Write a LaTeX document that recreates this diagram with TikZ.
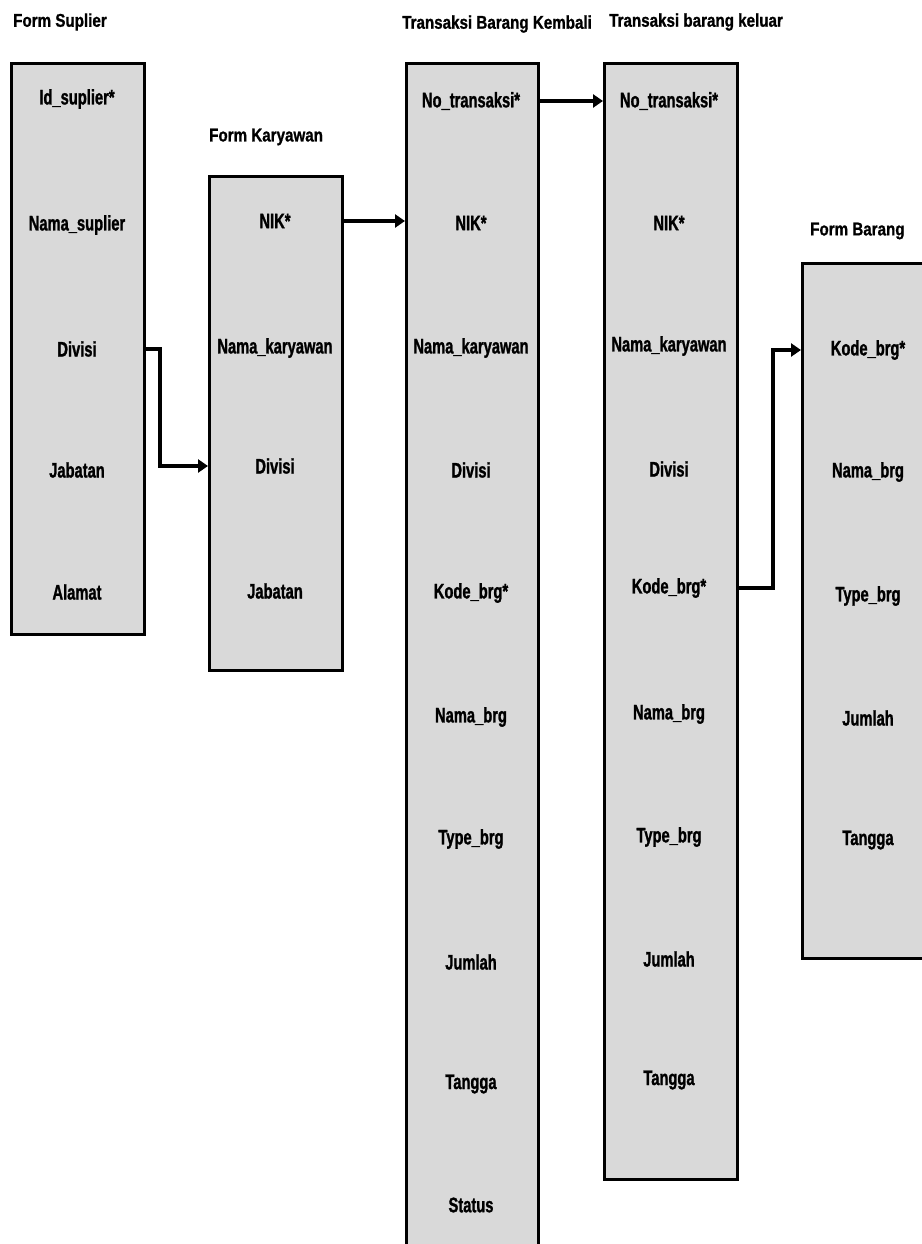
\documentclass[tikz,border=0pt]{standalone}
\usepackage{fontspec}
\setmainfont{Liberation Sans}[FakeStretch=0.70, BoldFeatures={FakeBold=1.2}]
\newfontfamily\titlefont{Liberation Sans}[FakeStretch=0.82, BoldFeatures={FakeBold=1.0}]
\usetikzlibrary{arrows.meta}
\definecolor{boxgray}{RGB}{217,217,217}
\tikzset{
  tbl/.style={draw=black, fill=boxgray, line width=3.2pt, rectangle, anchor=north west, inner sep=0pt},
  fld/.style={font=\bfseries\fontsize{21}{23}\selectfont, inner sep=0pt},
  ttl/.style={font=\titlefont\bfseries\fontsize{18.5}{20}\selectfont, anchor=west, inner sep=0pt},
  link/.style={line width=3.2pt, -{Triangle[length=10pt,width=13pt]}}
}
\begin{document}
\begin{tikzpicture}[x=1pt,y=-1pt]
\useasboundingbox (0,0) rectangle (921,1244);

% titles
\node[ttl] (tSup) at (13,22) {Form Suplier};
\node[ttl] (tKar) at (209,137) {Form Karyawan};
\node[ttl] (tKem) at (402,24) {Transaksi Barang Kembali};
\node[ttl] (tKel) at (609,22) {Transaksi barang keluar};
\node[ttl] (tBrg) at (810,231) {Form Barang};

% tables
\node[tbl, minimum width=133pt, minimum height=571pt] (sup) at (10,62) {};
\node[tbl, minimum width=133pt, minimum height=494pt] (kar) at (208,175) {};
\node[tbl, minimum width=132pt, minimum height=1200pt] (kem) at (405,62) {};
\node[tbl, minimum width=133pt, minimum height=1116pt] (kel) at (603,62) {};
\node[tbl, minimum width=140pt, minimum height=695pt] (brg) at (801,262) {};

% Form Suplier fields
\node[fld] (sup1) at (77,99) {Id\_suplier*};
\node[fld] (sup2) at (77,225) {Nama\_suplier};
\node[fld] (sup3) at (77,349) {Divisi};
\node[fld] (sup4) at (77,470) {Jabatan};
\node[fld] (sup5) at (77,592) {Alamat};

% Form Karyawan fields
\node[fld] (kar1) at (275,221) {NIK*};
\node[fld] (kar2) at (275,348) {Nama\_karyawan};
\node[fld] (kar3) at (275,466) {Divisi};
\node[fld] (kar4) at (275,591) {Jabatan};

% Transaksi Barang Kembali fields
\node[fld] (kem1) at (471,101) {No\_transaksi*};
\node[fld] (kem2) at (471,223) {NIK*};
\node[fld] (kem3) at (471,348) {Nama\_karyawan};
\node[fld] (kem4) at (471,470) {Divisi};
\node[fld] (kem5) at (471,593) {Kode\_brg*};
\node[fld] (kem6) at (471,717) {Nama\_brg};
\node[fld] (kem7) at (471,839) {Type\_brg};
\node[fld] (kem8) at (471,962) {Jumlah};
\node[fld] (kem9) at (471,1084) {Tangga};
\node[fld] (kem10) at (471,1205) {Status};

% Transaksi barang keluar fields
\node[fld] (kel1) at (669,101) {No\_transaksi*};
\node[fld] (kel2) at (669,223) {NIK*};
\node[fld] (kel3) at (669,346) {Nama\_karyawan};
\node[fld] (kel4) at (669,469) {Divisi};
\node[fld] (kel5) at (669,588) {Kode\_brg*};
\node[fld] (kel6) at (669,714) {Nama\_brg};
\node[fld] (kel7) at (669,837) {Type\_brg};
\node[fld] (kel8) at (669,959) {Jumlah};
\node[fld] (kel9) at (669,1080) {Tangga};

% Form Barang fields
\node[fld] (brg1) at (868,350) {Kode\_brg*};
\node[fld] (brg2) at (868,472) {Nama\_brg};
\node[fld] (brg3) at (868,596) {Type\_brg};
\node[fld] (brg4) at (868,718) {Jumlah};
\node[fld] (brg5) at (868,840) {Tangga};

% relations
\draw[link] (sup.east |- sup3) -- (160,0 |- sup3) -- (160,0 |- kar3) -- (kar.west |- kar3);
\draw[link] (kar.east |- kar1) -- (kem.west |- kar1);
\draw[link] (kem.east |- kem1) -- (kel.west |- kem1);
\draw[link] (kel.east |- kel5) -- (773,0 |- kel5) -- (773,0 |- brg1) -- (brg.west |- brg1);
\end{tikzpicture}
\end{document}
